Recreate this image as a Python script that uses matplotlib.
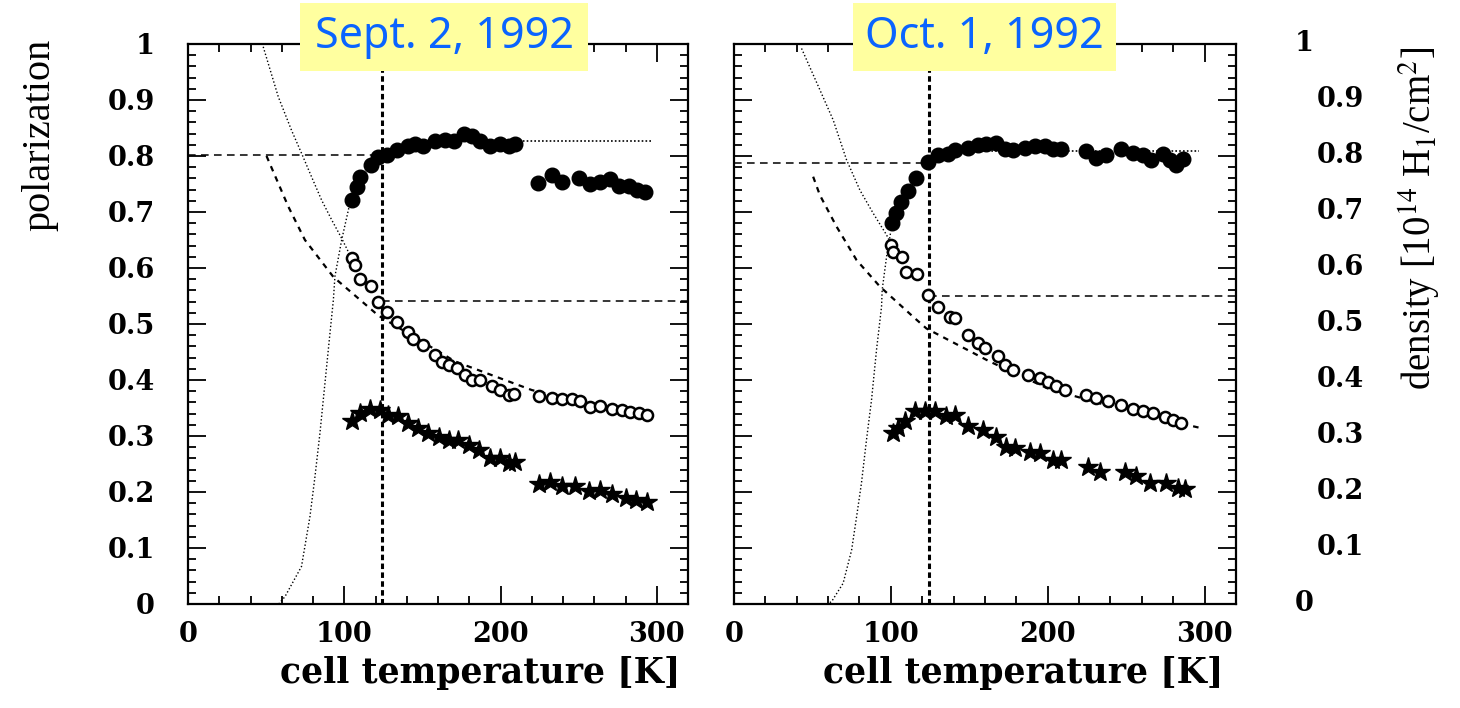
import matplotlib
matplotlib.use("Agg")
from matplotlib import pyplot as plt
from matplotlib.patches import Rectangle

plt.rcParams['mathtext.fontset'] = 'stix'

# ---- Sept. 2, 1992 (left panel) ----
sep_pol_T = [104.7, 107.9, 110, 117, 121.8, 127.1, 133.5, 141, 145.3, 150.6, 158.1, 164.5,
             169.9, 176.3, 181.6, 187, 193.4, 199.8, 205.1, 209.4,
             223.9, 232.9, 239.3, 250, 257.5, 263.9, 270.3, 275.6, 282, 287.4, 292.7]
sep_pol = [0.721, 0.744, 0.763, 0.783, 0.799, 0.802, 0.811, 0.817, 0.821, 0.817, 0.827, 0.829,
           0.826, 0.839, 0.835, 0.826, 0.817, 0.821, 0.817, 0.821,
           0.752, 0.766, 0.754, 0.760, 0.750, 0.754, 0.758, 0.746, 0.746, 0.739, 0.735]

sep_dens_T = [104.7, 106.8, 110, 117.1, 121.8, 127.1, 133.5, 140.6, 144.2, 150.6, 158.1, 162.4,
              166.7, 172, 177.4, 181.6, 187, 194.4, 199.8, 205.1, 208.3,
              224.4, 232.9, 239.3, 245.7, 251.1, 257.5, 263.9, 271.4, 277.8, 283.1, 288.5, 293.8]
sep_dens = [0.617, 0.605, 0.581, 0.568, 0.540, 0.522, 0.504, 0.486, 0.474, 0.463, 0.445, 0.433,
            0.427, 0.421, 0.409, 0.400, 0.400, 0.389, 0.383, 0.373, 0.375,
            0.371, 0.367, 0.366, 0.366, 0.363, 0.351, 0.354, 0.349, 0.346, 0.343, 0.341, 0.338]

sep_fom_T = [104.7, 110, 116.5, 122.9, 128.2, 134.6, 141, 147.4, 153.8, 160.3, 166.7, 173,
             179.5, 185.9, 193.4, 199.8, 205.1, 209.4,
             224.4, 231.8, 239.3, 247.9, 256.4, 263.9, 271.4, 280, 286.4, 293.8]
sep_fom = [0.326, 0.341, 0.349, 0.346, 0.338, 0.335, 0.323, 0.314, 0.305, 0.299, 0.293, 0.293,
           0.284, 0.275, 0.260, 0.260, 0.251, 0.253,
           0.214, 0.218, 0.211, 0.211, 0.201, 0.203, 0.196, 0.189, 0.186, 0.183]

sep_fit_T = [50.2, 64.1, 74.8, 93, 121.8, 171, 220, 260, 293]
sep_fit = [0.800, 0.710, 0.650, 0.584, 0.515, 0.433, 0.382, 0.355, 0.337]

sep_fall_T = [48.1, 57.7, 66.2, 72.6, 79, 85.5, 91.9, 98.3, 103.6]
sep_fall = [0.995, 0.906, 0.846, 0.805, 0.763, 0.721, 0.686, 0.653, 0.623]

sep_rise_T = [58, 62, 72.6, 78, 81.2, 84.4, 87.6, 90.8, 93, 94, 98.3, 103.6]
sep_rise = [0.0, 0.013, 0.067, 0.156, 0.227, 0.305, 0.394, 0.483, 0.543, 0.585, 0.650, 0.716]

sep_plateau_T = [211.5, 297]
sep_plateau = 0.827
sep_Tc = 124.4
sep_pol_ref = 0.801
sep_dens_ref = 0.541

# ---- Oct. 1, 1992 (right panel) ----
oct_pol_T = [100.8, 103.6, 106.8, 111, 115.9, 123.8, 130.2, 136.5, 140.8, 149.2, 155.6, 161,
             167.3, 172.6, 177.9, 185.4, 191.7, 198.1, 203.4, 208.7,
             224.6, 231, 237.4, 247, 254.4, 260.7, 266.1, 273.5, 277.7, 282, 286.2]
oct_pol = [0.680, 0.698, 0.717, 0.738, 0.760, 0.789, 0.802, 0.804, 0.811, 0.815, 0.820, 0.821,
           0.823, 0.812, 0.811, 0.814, 0.818, 0.817, 0.813, 0.813,
           0.808, 0.797, 0.802, 0.813, 0.806, 0.801, 0.793, 0.804, 0.793, 0.784, 0.795]

oct_dens_T = [100.4, 101.5, 107.4, 110, 116.4, 123.8, 130.2, 137.6, 140.8, 149.2, 155.6, 159.9,
              168.4, 172.6, 177.9, 187.5, 194.9, 200.2, 205.5, 210.8,
              224.6, 231, 238.4, 247, 254.4, 260.7, 267.1, 274.5, 279.8, 285.2]
oct_dens = [0.641, 0.629, 0.620, 0.593, 0.589, 0.552, 0.531, 0.513, 0.510, 0.480, 0.466, 0.457,
            0.442, 0.427, 0.418, 0.409, 0.403, 0.397, 0.389, 0.382,
            0.373, 0.367, 0.363, 0.355, 0.349, 0.344, 0.341, 0.334, 0.329, 0.323]

oct_fom_T = [101.5, 104.7, 108.9, 115.3, 121.7, 128, 135.5, 140.8, 149.2, 158.8, 167.3, 173.7,
             179, 188.5, 194.9, 203.4, 208.7,
             225.7, 233.1, 249, 256.5, 265, 275.6, 283, 287.3]
oct_fom = [0.305, 0.314, 0.326, 0.344, 0.344, 0.344, 0.335, 0.338, 0.318, 0.311, 0.299, 0.281,
           0.278, 0.272, 0.269, 0.258, 0.257,
           0.245, 0.236, 0.236, 0.228, 0.216, 0.216, 0.207, 0.205]

oct_fit_T = [50.5, 54.8, 65.4, 78.2, 93, 114.2, 122.7, 163, 200, 250, 297.9]
oct_fit = [0.763, 0.730, 0.674, 0.614, 0.567, 0.513, 0.492, 0.433, 0.385, 0.345, 0.314]

oct_fall_T = [43.1, 54.8, 63.3, 71.8, 80.3, 88.7, 97.3, 100.4]
oct_fall = [0.992, 0.918, 0.864, 0.793, 0.739, 0.698, 0.659, 0.641]

oct_rise_T = [59, 62.2, 69.6, 75, 78.2, 81.3, 84.5, 87.7, 90.9, 94.1, 94.5, 97.3, 99.8]
oct_rise = [0.0, 0.004, 0.037, 0.096, 0.156, 0.216, 0.293, 0.364, 0.454, 0.531, 0.561, 0.620, 0.662]

oct_plateau_T = [154.6, 296.8]
oct_plateau = 0.809
oct_Tc = 124.2
oct_pol_ref = 0.787
oct_dens_ref = 0.550

y_major = [0, 0.1, 0.2, 0.3, 0.4, 0.5, 0.6, 0.7, 0.8, 0.9, 1]
y_labels = ["0", "0.1", "0.2", "0.3", "0.4", "0.5", "0.6", "0.7", "0.8", "0.9", "1"]
x_major = [0, 100, 200, 300]

tick_font = dict(family="DejaVu Serif", weight="bold", size=19.5)


def panel(ax, pol_T, pol, dens_T, dens, fom_T, fom, fit_T, fit, fall_T, fall,
          rise_T, rise, plat_T, plat, Tc, pol_ref, dens_ref):
    ax.plot(fall_T, fall, color="k", lw=1.0, dashes=(1, 1.6))
    ax.plot(rise_T, rise, color="k", lw=1.0, dashes=(1, 1.6))
    ax.plot(plat_T, [plat, plat], color="k", lw=1.2, dashes=(1, 1.3))
    ax.plot(fit_T, fit, color="k", lw=1.6, dashes=(2.5, 2.5))
    ax.plot([0, Tc], [pol_ref, pol_ref], color="k", lw=1.1, dashes=(5, 3.5))
    ax.plot([Tc, 320], [dens_ref, dens_ref], color="k", lw=1.1, dashes=(5, 3.5))
    ax.plot([Tc, Tc], [0, 1], color="k", lw=2.2, dashes=(1.8, 1.1))
    ax.plot(pol_T, pol, 'o', color="k", ms=10.5, zorder=5)
    ax.plot(dens_T, dens, 'o', mfc="white", mec="k", ms=8, mew=1.8, zorder=5)
    ax.plot(fom_T, fom, '*', color="k", ms=15, zorder=5)

    ax.set_xlim(0, 320)
    ax.set_ylim(0, 1)
    ax.set_xticks(x_major)
    ax.set_xticks(range(0, 321, 20), minor=True)
    ax.set_yticks(y_major)
    ax.set_yticks([i * 0.02 for i in range(51)], minor=True)
    ax.set_xticklabels([str(v) for v in x_major], fontdict=tick_font)
    ax.tick_params(which="both", direction="in", top=True, right=True, width=1.3)
    ax.tick_params(which="major", length=13, pad=12)
    ax.tick_params(which="minor", length=6)
    for s in ax.spines.values():
        s.set_linewidth(1.6)


fig = plt.figure(figsize=(14.6, 7.08), dpi=100)
ax1 = fig.add_axes([0.1288, 0.1469, 0.3425, 0.791])
ax2 = fig.add_axes([0.5027, 0.1469, 0.3438, 0.791])

panel(ax1, sep_pol_T, sep_pol, sep_dens_T, sep_dens, sep_fom_T, sep_fom, sep_fit_T, sep_fit,
      sep_fall_T, sep_fall, sep_rise_T, sep_rise, sep_plateau_T, sep_plateau, sep_Tc,
      sep_pol_ref, sep_dens_ref)
panel(ax2, oct_pol_T, oct_pol, oct_dens_T, oct_dens, oct_fom_T, oct_fom, oct_fit_T, oct_fit,
      oct_fall_T, oct_fall, oct_rise_T, oct_rise, oct_plateau_T, oct_plateau, oct_Tc,
      oct_pol_ref, oct_dens_ref)

ax1.set_yticklabels(y_labels, fontdict=tick_font)
ax1.tick_params(axis="y", which="major", pad=24)

# right-hand density scale: 0 and 1 sit a little further left than the others
ax2.set_yticklabels([])
for v, lab in zip(y_major, y_labels):
    xpos = 1.118 if v in (0, 1) else 1.161
    ax2.text(xpos, v, lab, transform=ax2.get_yaxis_transform(), ha="left", va="center",
             **tick_font)

ax1.text(0.584, -0.124, "cell temperature [K]", transform=ax1.transAxes, ha="center",
         va="center", family="DejaVu Serif", weight="bold", size=25)
ax2.text(0.576, -0.124, "cell temperature [K]", transform=ax2.transAxes, ha="center",
         va="center", family="DejaVu Serif", weight="bold", size=25)

fig.text(40 / 1460, 1 - 135 / 708, "polarization", rotation=90, ha="center", va="center",
         family="Liberation Serif", size=29)
fig.text(1420 / 1460, 1 - 218 / 708, r"density [10$^{14}$ H$_1$/cm$^2$]", rotation=90,
         ha="center", va="center", family="Liberation Serif", size=28)

# date boxes over the top spines
for x0, w, cx, label in [(300, 288, 444, "Sept. 2, 1992"), (853, 263, 984, "Oct. 1, 1992")]:
    fig.add_artist(Rectangle((x0 / 1460, 1 - 71 / 708), w / 1460, 68 / 708,
                             transform=fig.transFigure, facecolor="#FFFF9F",
                             edgecolor="none", zorder=10))
    fig.text(cx / 1460, 1 - 37 / 708, label, ha="center", va="center", color="#0A64FF",
             family="Noto Sans", size=31, zorder=11)

fig.savefig("out.png", dpi=100)
